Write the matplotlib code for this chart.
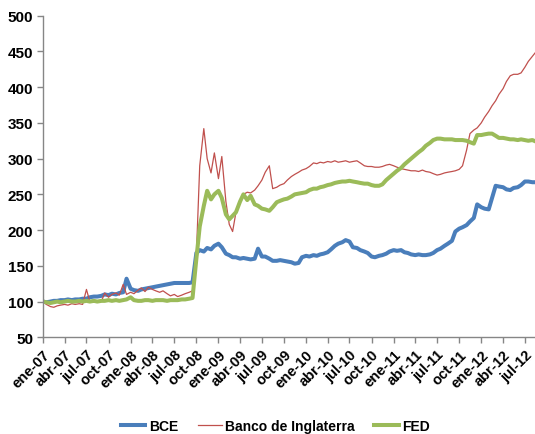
import matplotlib
matplotlib.use("Agg")
import matplotlib.pyplot as plt
import pandas as pd
from matplotlib.lines import Line2D

plt.rcParams['font.family'] = ['Liberation Sans', 'DejaVu Sans']

# semi-monthly observations (1st and 15th of each month), Jan 2007 - Aug 2012
dates = pd.date_range('2007-01-01', periods=136, freq='SMS')

bce = [100, 99, 100, 101, 101, 102, 102, 103, 102, 103, 103, 104, 104, 106, 107, 107, 108, 110, 109, 111,
       110, 112, 113, 132, 118, 116, 115, 117, 118, 119, 120, 121, 122, 123, 124, 125, 126, 126, 126, 126,
       126, 127, 168, 172, 170, 175, 173, 178, 181, 176, 167, 165, 162, 162, 160, 161, 160, 159, 160, 174,
       163, 163, 160, 157, 157, 158, 157, 156, 155, 153, 154, 162, 164, 163, 165, 164, 166, 167, 169, 173,
       178, 181, 183, 186, 184, 176, 175, 172, 170, 168, 163, 162, 164, 165, 167, 170, 172, 171, 172, 169,
       168, 166, 165, 166, 165, 165, 166, 168, 172, 174, 178, 181, 185, 198, 202, 204, 207, 212, 217, 236,
       232, 230, 229, 245, 262, 261, 260, 257, 256, 259, 260, 263, 268, 268, 267, 267]

boe = [100, 96, 93, 92, 94, 95, 96, 95, 97, 96, 97, 96, 117, 100, 99, 101, 100, 112, 106, 110,
       112, 109, 124, 110, 113, 111, 116, 119, 114, 120, 117, 115, 113, 115, 111, 108, 110, 107, 109, 111,
       113, 115, 165, 290, 342, 300, 280, 308, 272, 303, 240, 208, 198, 225, 242, 250, 253, 252, 256, 262,
       270, 281, 290, 258, 260, 263, 265, 270, 275, 278, 281, 284, 286, 289, 294, 293, 295, 294, 296, 295,
       297, 295, 296, 297, 295, 296, 297, 294, 290, 289, 289, 288, 288, 289, 291, 292, 290, 288, 286, 285,
       284, 283, 283, 282, 284, 282, 281, 279, 277, 278, 280, 281, 282, 283, 285, 290, 312, 335, 340, 343,
       350, 358, 366, 374, 381, 390, 398, 408, 416, 418, 418, 420, 428, 436, 443, 449]

fed = [100, 99, 98, 99, 100, 99, 100, 101, 100, 100, 101, 100, 101, 100, 101, 100, 101, 101, 102, 101,
       102, 101, 102, 103, 106, 102, 101, 101, 102, 102, 101, 102, 102, 102, 101, 102, 102, 102, 103, 103,
       104, 105, 160, 205, 234, 255, 243, 250, 255, 245, 222, 215, 220, 225, 240, 250, 242, 248, 236, 234,
       230, 229, 227, 232, 239, 241, 243, 244, 247, 250, 251, 252, 253, 256, 258, 258, 260, 261, 263, 264,
       266, 267, 268, 268, 269, 268, 267, 266, 265, 265, 263, 262, 262, 264, 270, 274, 279, 283, 287, 292,
       296, 300, 305, 309, 313, 318, 322, 326, 328, 328, 327, 327, 327, 326, 326, 326, 325, 323, 321, 333,
       333, 334, 335, 335, 332, 329, 329, 328, 327, 327, 326, 327, 326, 325, 326, 324]

series_names = ['BCE', 'Banco de Inglaterra', 'FED']
tick_labels = ['ene-07', 'abr-07', 'jul-07', 'oct-07', 'ene-08', 'abr-08', 'jul-08', 'oct-08',
               'ene-09', 'abr-09', 'jul-09', 'oct-09', 'ene-10', 'abr-10', 'jul-10', 'oct-10',
               'ene-11', 'abr-11', 'jul-11', 'oct-11', 'ene-12', 'abr-12', 'jul-12']
tick_dates = pd.date_range('2007-01-01', periods=len(tick_labels), freq='QS')
yticks = [50, 100, 150, 200, 250, 300, 350, 400, 450, 500]

c_blue = '#4A7EBB'
c_red = '#C0504D'
c_green = '#9BBB59'

fig = plt.figure(figsize=(5.35, 4.35), dpi=100)
ax = fig.add_axes([0.0804, 0.2223, 0.9196, 0.7393])

ax.plot(dates, bce, color=c_blue, lw=2.9, solid_joinstyle='round')
ax.plot(dates, boe, color=c_red, lw=0.9)
ax.plot(dates, fed, color=c_green, lw=2.9, solid_joinstyle='round')

ax.set_xlim(pd.Timestamp('2007-01-01'), pd.Timestamp('2012-08-12'))
ax.set_ylim(50, 500)
ax.set_yticks(yticks)
ax.set_yticklabels([str(v) for v in yticks], fontsize=11, fontweight='bold')
ax.set_xticks(tick_dates)
ax.set_xticklabels(tick_labels, rotation=45, ha='right', va='top', rotation_mode='anchor',
                   fontsize=10.5, fontweight='bold')

for s in ['top', 'right']:
    ax.spines[s].set_visible(False)
for s in ['left', 'bottom']:
    ax.spines[s].set_color('#868686')
    ax.spines[s].set_linewidth(1.0)
ax.tick_params(axis='both', direction='out', length=4, color='#868686', width=1.0)
ax.tick_params(axis='y', pad=3)
ax.tick_params(axis='x', pad=3)

handles = [Line2D([], [], color=c_blue, lw=2.9),
           Line2D([], [], color=c_red, lw=0.9),
           Line2D([], [], color=c_green, lw=2.9)]
fig.legend(handles, series_names, loc='center', bbox_to_anchor=(0.515, 0.018), ncol=3,
           frameon=False, handlelength=1.75, handletextpad=0.25, columnspacing=1.4,
           prop={'weight': 'bold', 'size': 10})

fig.savefig('out.png', dpi=100)
